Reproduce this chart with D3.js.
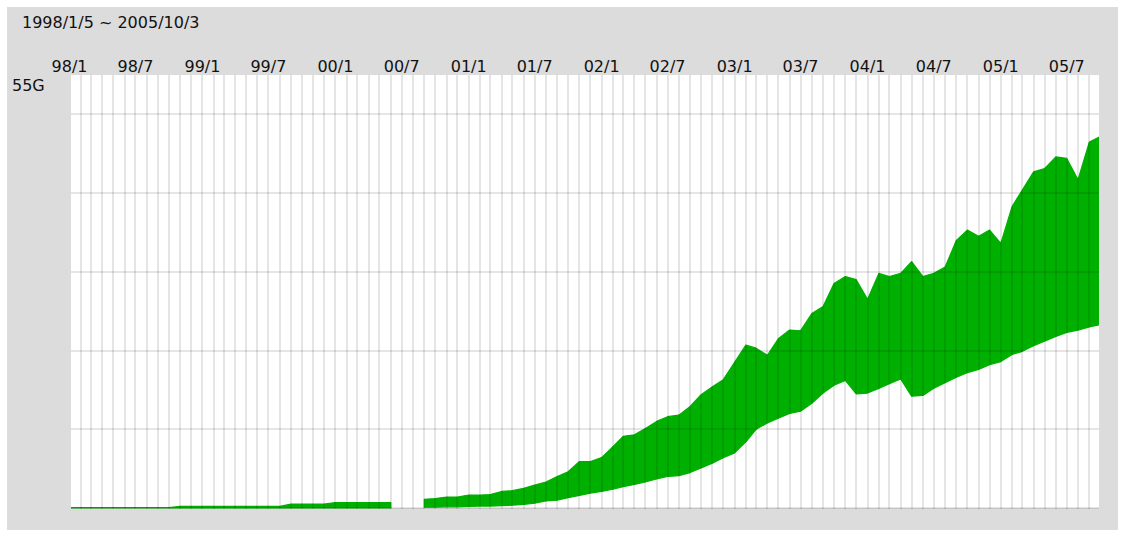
<!DOCTYPE html>
<html>
<head>
<meta charset="utf-8" />
<title>traffic 1998-2005</title>
<style>
  html, body { margin: 0; background: #fff; }
  text { font-family: "DejaVu Sans", sans-serif; font-size: 16px; fill: #111; }
</style>
</head>
<body>
<div id="container"></div>
<script src="https://d3js.org/d3.v7.min.js"></script>
<script>
var title = "1998/1/5 ~ 2005/10/3";
var topLabel = "55G";
var tickLabels = ["98/1", "98/7", "99/1", "99/7", "00/1", "00/7", "01/1", "01/7",
                  "02/1", "02/7", "03/1", "03/7", "04/1", "04/7", "05/1", "05/7"];
var gridValues = [0, 10, 20, 30, 40, 50];

// one sample per month, 1998/1 .. 2005/10 (values in G), null = no data
var hi = [
  0.05, 0.05, 0.05, 0.05, 0.05, 0.05, 0.05, 0.05, 0.05, 0.05,
  0.2, 0.2, 0.2, 0.2, 0.2, 0.2, 0.2, 0.2, 0.2, 0.2,
  0.5, 0.5, 0.5, 0.5,
  0.7, 0.7, 0.7, 0.7, 0.7, 0.7,
  null, null,
  1.1, 1.2, 1.4, 1.4, 1.65, 1.65, 1.7, 2.1, 2.2, 2.5,
  2.9, 3.3, 4.0, 4.6, 5.9, 5.9, 6.4, 7.8, 9.1, 9.3,
  10.1, 11.0, 11.6, 11.8, 12.9, 14.4, 15.4, 16.3, 18.5, 20.7,
  20.3, 19.4, 21.5, 22.6, 22.5, 24.7, 25.6, 28.5, 29.4, 29.0,
  26.5, 29.8, 29.4, 29.8, 31.3, 29.4, 29.8, 30.6, 34.0, 35.3,
  34.5, 35.3, 33.6, 38.3, 40.4, 42.7, 43.1, 44.6, 44.4, 41.7,
  46.5, 47.2
];
var lo = [
  0, 0, 0, 0, 0, 0, 0, 0, 0, 0,
  0, 0, 0, 0, 0, 0, 0, 0, 0, 0,
  0, 0, 0, 0,
  0, 0, 0, 0, 0, 0,
  null, null,
  0.1, 0.1, 0.15, 0.15, 0.2, 0.25, 0.25, 0.3, 0.35, 0.45,
  0.6, 0.9, 1.0, 1.3, 1.6, 1.9, 2.1, 2.4, 2.7, 3.0,
  3.3, 3.7, 4.0, 4.1, 4.5, 5.1, 5.7, 6.4, 7.0, 8.4,
  10.0, 10.8, 11.4, 12.0, 12.3, 13.3, 14.6, 15.6, 16.2, 14.5,
  14.6, 15.2, 15.8, 16.4, 14.2, 14.3, 15.2, 15.9, 16.6, 17.2,
  17.6, 18.2, 18.6, 19.5, 19.9, 20.6, 21.2, 21.8, 22.3, 22.6,
  23.0, 23.3
];

var months = d3.timeMonth.range(new Date(1998, 0, 1), new Date(2005, 10, 1));
var start = new Date(1998, 0, 5), end = new Date(2005, 9, 3);

var W = 1125, H = 535;
var plot = { left: 71, right: 1099, top: 75, bottom: 508 };

var x = d3.scaleTime().domain([start, end]).range([71, 1101]);
var y = d3.scaleLinear().domain([0, 55]).range([plot.bottom, plot.top]);
var parseTick = d3.timeParse("%y/%m");

var svg = d3.select("#container").append("svg")
    .attr("width", W)
    .attr("height", H);

svg.append("rect")
    .attr("x", 7).attr("y", 7)
    .attr("width", W - 14).attr("height", H - 12)
    .attr("fill", "#dcdcdc");

svg.append("clipPath").attr("id", "clip")
  .append("rect")
    .attr("x", plot.left).attr("y", plot.top)
    .attr("width", plot.right - plot.left).attr("height", plot.bottom - plot.top + 1);

svg.append("rect")
    .attr("x", plot.left).attr("y", plot.top)
    .attr("width", plot.right - plot.left).attr("height", plot.bottom - plot.top)
    .attr("fill", "#fff");

var g = svg.append("g").attr("clip-path", "url(#clip)");

var area = d3.area()
    .defined(function(d, i) { return hi[i] != null; })
    .x(function(d) { return x(d < start ? start : d); })
    .y0(function(d, i) { return y(lo[i]); })
    .y1(function(d, i) { return y(hi[i]); });

g.append("path")
    .datum(months)
    .attr("d", area)
    .attr("fill", "#00b000")
    .attr("stroke", "#00b000")
    .attr("stroke-width", 1.2)
    .attr("stroke-linejoin", "round");

// grid drawn on top, translucent so it darkens the green
var grid = g.append("g")
    .attr("stroke", "#000")
    .attr("stroke-opacity", 0.1)
    .attr("stroke-width", 2);

grid.selectAll("line.v")
  .data(d3.timeMonth.range(new Date(1998, 1, 1), end))
  .join("line")
    .attr("class", "v")
    .attr("x1", function(d) { return Math.round(x(d)); })
    .attr("x2", function(d) { return Math.round(x(d)); })
    .attr("y1", plot.top).attr("y2", plot.bottom + 1);

grid.selectAll("line.h")
  .data(gridValues)
  .join("line")
    .attr("class", "h")
    .attr("x1", plot.left).attr("x2", plot.right)
    .attr("y1", function(d) { return Math.round(y(d)); })
    .attr("y2", function(d) { return Math.round(y(d)); });

svg.append("text")
    .attr("x", 22).attr("y", 28)
    .text(title);

svg.append("text")
    .attr("x", 12).attr("y", 91)
    .text(topLabel);

svg.selectAll("text.tick")
  .data(tickLabels)
  .join("text")
    .attr("class", "tick")
    .attr("x", function(d) { return x(parseTick(d)); })
    .attr("y", 72)
    .attr("text-anchor", "middle")
    .text(function(d) { return d; });
</script>
</body>
</html>
